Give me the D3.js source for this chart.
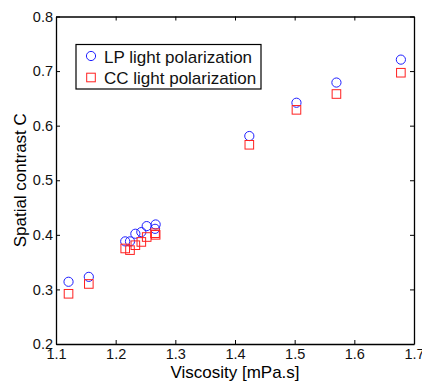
<!DOCTYPE html>
<html>
<head>
<meta charset="utf-8">
<script src="https://cdn.jsdelivr.net/npm/d3@7"></script>
<style>
  body { margin: 0; background: #fff; }
  text { font-family: "Liberation Sans", Arial, Helvetica, sans-serif; }
</style>
</head>
<body>
<script>
// viscosity values (x) and the two contrast series
const viscosity = [1.121, 1.155, 1.216, 1.224, 1.233, 1.243, 1.252, 1.267, 1.266, 1.424, 1.503, 1.570, 1.678];
const lpContrast = [0.314, 0.323, 0.388, 0.388, 0.402, 0.405, 0.416, 0.419, 0.411, 0.581, 0.642, 0.679, 0.721];
const ccContrast = [0.292, 0.310, 0.375, 0.372, 0.381, 0.387, 0.396, 0.400, 0.403, 0.565, 0.629, 0.658, 0.697];
const xTicks = [1.1, 1.2, 1.3, 1.4, 1.5, 1.6, 1.7];
const yTicks = [0.2, 0.3, 0.4, 0.5, 0.6, 0.7, 0.8];
const seriesNames = ["LP light polarization", "CC light polarization"];

const W = 422, H = 381;
const margin = {top: 16.5, right: 8, bottom: 37, left: 56};
const width = W - margin.left - margin.right,
    height = H - margin.top - margin.bottom;

const svg = d3.select("body")
    .append("svg")
    .attr("width", W)
    .attr("height", H)
  .append("g")
    .attr("transform", "translate(" + margin.left + "," + margin.top + ")");

const x = d3.scaleLinear().domain([1.1, 1.7]).range([0, width]);
const y = d3.scaleLinear().domain([0.2, 0.8]).range([height, 0]);

// axes, MATLAB style: ticks pointing inward on all four sides
const tickLen = 4;
const fmt = d3.format(".1f");

const xAxis = svg.append("g")
    .attr("transform", "translate(0," + height + ")")
    .call(d3.axisBottom(x).tickValues(xTicks).tickFormat(fmt).tickSizeInner(-tickLen).tickSizeOuter(0).tickPadding(5));
const yAxis = svg.append("g")
    .call(d3.axisLeft(y).tickValues(yTicks).tickFormat(fmt).tickSizeInner(-tickLen).tickSizeOuter(0).tickPadding(3));
const xTop = svg.append("g")
    .call(d3.axisTop(x).tickValues(xTicks).tickFormat("").tickSizeInner(-tickLen).tickSizeOuter(0));
const yRight = svg.append("g")
    .attr("transform", "translate(" + width + ",0)")
    .call(d3.axisRight(y).tickValues(yTicks).tickFormat("").tickSizeInner(-tickLen).tickSizeOuter(0));

[xAxis, yAxis, xTop, yRight].forEach(function(g) {
  g.select(".domain").attr("stroke", "#000").attr("stroke-width", 1.3);
  g.selectAll(".tick line").attr("stroke", "#000").attr("stroke-width", 1);
  g.selectAll(".tick text").attr("font-size", 14.5).attr("fill", "#111")
      .style("font-family", "'Liberation Sans', Arial, sans-serif");
});

// axis labels
svg.append("text")
    .attr("x", width / 2)
    .attr("y", height + 33.5)
    .attr("text-anchor", "middle")
    .attr("font-size", 17)
    .text("Viscosity [mPa.s]");

svg.append("text")
    .attr("transform", "translate(" + (-30) + "," + (height / 2) + ")rotate(-90)")
    .attr("text-anchor", "middle")
    .attr("font-size", 17)
    .text("Spatial contrast C");

// LP circles
svg.selectAll(".lp")
    .data(viscosity)
    .enter()
    .append("circle")
      .attr("class", "lp")
      .attr("cx", function(d) { return x(d); })
      .attr("cy", function(d, i) { return y(lpContrast[i]); })
      .attr("r", 4.6)
      .attr("fill", "none")
      .attr("stroke", "#1f1fff")
      .attr("stroke-width", 1);

// CC squares
const s = 8.6;
svg.selectAll(".cc")
    .data(viscosity)
    .enter()
    .append("rect")
      .attr("class", "cc")
      .attr("x", function(d) { return x(d) - s / 2; })
      .attr("y", function(d, i) { return y(ccContrast[i]) - s / 2; })
      .attr("width", s)
      .attr("height", s)
      .attr("fill", "none")
      .attr("stroke", "#ff2020")
      .attr("stroke-width", 1);

// legend
const legend = svg.append("g")
    .attr("transform", "translate(" + (76 - margin.left) + "," + (44.5 - margin.top) + ")");
legend.append("rect")
    .attr("width", 185)
    .attr("height", 44.5)
    .attr("fill", "#fff")
    .attr("stroke", "#000")
    .attr("stroke-width", 1.2);
legend.append("circle")
    .attr("cx", 15).attr("cy", 11.5).attr("r", 4.6)
    .attr("fill", "none").attr("stroke", "#1f1fff");
legend.append("rect")
    .attr("x", 15 - s / 2).attr("y", 33 - s / 2).attr("width", s).attr("height", s)
    .attr("fill", "none").attr("stroke", "#ff2020");
legend.selectAll(".lab")
    .data(seriesNames)
    .enter()
    .append("text")
      .attr("x", 28)
      .attr("y", function(d, i) { return 18.5 + i * 21; })
      .attr("font-size", 17)
      .attr("fill", "#111")
      .text(function(d) { return d; });
</script>
</body>
</html>
